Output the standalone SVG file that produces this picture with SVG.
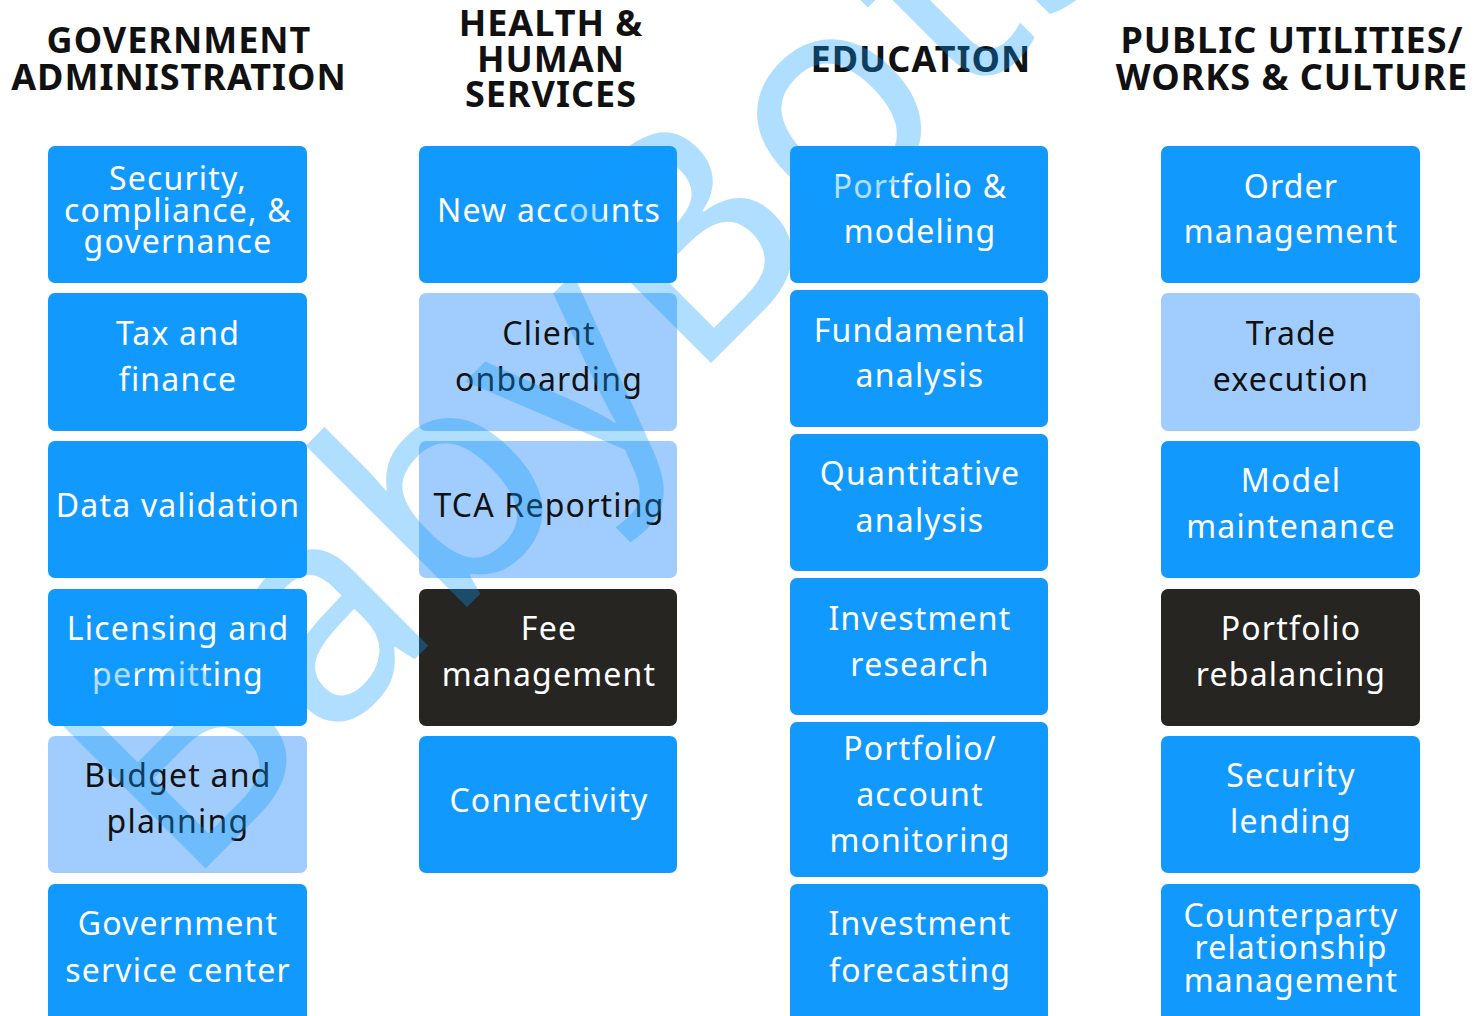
<svg xmlns="http://www.w3.org/2000/svg" width="1484" height="1016" viewBox="0 0 1484 1016">
  <style>
    .hd { font-family: "Noto Sans", "Open Sans", sans-serif; font-weight: 700; font-size: 36px; letter-spacing: 1px; fill: #111111; text-anchor: middle; }
    .box { stroke: none; }
    .blue { fill: #1299fe; }
    .light { fill: #a0cdfd; }
    .dark { fill: #262522; }
    .lbl { font-family: "Noto Sans", "Open Sans", sans-serif; font-weight: 400; font-size: 32px; letter-spacing: 1.2px; text-anchor: middle; }
    .w { fill: #ffffff; }
    .k { fill: #111111; }
    .mark { font-family: "Noto Sans", "Open Sans", sans-serif; font-size: 300px; letter-spacing: 5px; fill: rgb(13,154,255); fill-opacity: 0.33; }
  </style>
  <rect width="1484" height="1016" fill="#ffffff"/>

  <!-- column headings -->
  <g id="head-government">
    <text class="hd" x="179" y="53">GOVERNMENT</text>
    <text class="hd" x="179" y="90">ADMINISTRATION</text>
  </g>
  <g id="head-health">
    <text class="hd" x="551" y="36">HEALTH &amp;</text>
    <text class="hd" x="551" y="72">HUMAN</text>
    <text class="hd" x="551" y="107">SERVICES</text>
  </g>
  <g id="head-education">
    <text class="hd" x="921" y="72">EDUCATION</text>
  </g>
  <g id="head-public">
    <text class="hd" x="1292" y="53">PUBLIC UTILITIES/</text>
    <text class="hd" x="1292" y="90">WORKS &amp; CULTURE</text>
  </g>

  <!-- column 1: government administration -->
  <g id="n-security-compliance">
    <rect class="box blue" x="48" y="146" width="259" height="137" rx="7"/>
    <text class="lbl w" x="178" y="190">Security,</text>
    <text class="lbl w" x="178" y="222">compliance, &amp;</text>
    <text class="lbl w" x="178" y="253">governance</text>
  </g>
  <g id="n-tax-finance">
    <rect class="box blue" x="48" y="293" width="259" height="138" rx="7"/>
    <text class="lbl w" x="178" y="345">Tax and</text>
    <text class="lbl w" x="178" y="391">finance</text>
  </g>
  <g id="n-data-validation">
    <rect class="box blue" x="48" y="441" width="259" height="137" rx="7"/>
    <text class="lbl w" x="178" y="517">Data validation</text>
  </g>
  <g id="n-licensing">
    <rect class="box blue" x="48" y="589" width="259" height="137" rx="7"/>
    <text class="lbl w" x="178" y="640">Licensing and</text>
    <text class="lbl w" x="178" y="686">permitting</text>
  </g>
  <g id="n-budget">
    <rect class="box light" x="48" y="736" width="259" height="137" rx="7"/>
    <text class="lbl k" x="178" y="787">Budget and</text>
    <text class="lbl k" x="178" y="833">planning</text>
  </g>
  <g id="n-service-center">
    <rect class="box blue" x="48" y="884" width="259" height="150" rx="7"/>
    <text class="lbl w" x="178" y="935">Government</text>
    <text class="lbl w" x="178" y="982">service center</text>
  </g>

  <!-- column 2: health & human services -->
  <g id="n-new-accounts">
    <rect class="box blue" x="419" y="146" width="258" height="137" rx="7"/>
    <text class="lbl w" x="549" y="222">New accounts</text>
  </g>
  <g id="n-client-onboarding">
    <rect class="box light" x="419" y="293" width="258" height="138" rx="7"/>
    <text class="lbl k" x="549" y="345">Client</text>
    <text class="lbl k" x="549" y="391">onboarding</text>
  </g>
  <g id="n-tca-reporting">
    <rect class="box light" x="419" y="441" width="258" height="137" rx="7"/>
    <text class="lbl k" x="549" y="517">TCA Reporting</text>
  </g>
  <g id="n-fee-management">
    <rect class="box dark" x="419" y="589" width="258" height="137" rx="7"/>
    <text class="lbl w" x="549" y="640">Fee</text>
    <text class="lbl w" x="549" y="686">management</text>
  </g>
  <g id="n-connectivity">
    <rect class="box blue" x="419" y="736" width="258" height="137" rx="7"/>
    <text class="lbl w" x="549" y="812">Connectivity</text>
  </g>

  <!-- column 3: education -->
  <g id="n-portfolio-modeling">
    <rect class="box blue" x="790" y="146" width="258" height="137" rx="7"/>
    <text class="lbl w" x="920" y="198">Portfolio &amp;</text>
    <text class="lbl w" x="920" y="243">modeling</text>
  </g>
  <g id="n-fundamental">
    <rect class="box blue" x="790" y="290" width="258" height="137" rx="7"/>
    <text class="lbl w" x="920" y="342">Fundamental</text>
    <text class="lbl w" x="920" y="387">analysis</text>
  </g>
  <g id="n-quantitative">
    <rect class="box blue" x="790" y="434" width="258" height="137" rx="7"/>
    <text class="lbl w" x="920" y="485">Quantitative</text>
    <text class="lbl w" x="920" y="532">analysis</text>
  </g>
  <g id="n-investment-research">
    <rect class="box blue" x="790" y="578" width="258" height="137" rx="7"/>
    <text class="lbl w" x="920" y="630">Investment</text>
    <text class="lbl w" x="920" y="676">research</text>
  </g>
  <g id="n-account-monitoring">
    <rect class="box blue" x="790" y="722" width="258" height="155" rx="7"/>
    <text class="lbl w" x="920" y="760">Portfolio/</text>
    <text class="lbl w" x="920" y="806">account</text>
    <text class="lbl w" x="920" y="852">monitoring</text>
  </g>
  <g id="n-investment-forecasting">
    <rect class="box blue" x="790" y="884" width="258" height="150" rx="7"/>
    <text class="lbl w" x="920" y="935">Investment</text>
    <text class="lbl w" x="920" y="982">forecasting</text>
  </g>

  <!-- column 4: public utilities / works & culture -->
  <g id="n-order-management">
    <rect class="box blue" x="1161" y="146" width="259" height="137" rx="7"/>
    <text class="lbl w" x="1291" y="198">Order</text>
    <text class="lbl w" x="1291" y="243">management</text>
  </g>
  <g id="n-trade-execution">
    <rect class="box light" x="1161" y="293" width="259" height="138" rx="7"/>
    <text class="lbl k" x="1291" y="345">Trade</text>
    <text class="lbl k" x="1291" y="391">execution</text>
  </g>
  <g id="n-model-maintenance">
    <rect class="box blue" x="1161" y="441" width="259" height="137" rx="7"/>
    <text class="lbl w" x="1291" y="492">Model</text>
    <text class="lbl w" x="1291" y="538">maintenance</text>
  </g>
  <g id="n-rebalancing">
    <rect class="box dark" x="1161" y="589" width="259" height="137" rx="7"/>
    <text class="lbl w" x="1291" y="640">Portfolio</text>
    <text class="lbl w" x="1291" y="686">rebalancing</text>
  </g>
  <g id="n-security-lending">
    <rect class="box blue" x="1161" y="736" width="259" height="137" rx="7"/>
    <text class="lbl w" x="1291" y="787">Security</text>
    <text class="lbl w" x="1291" y="833">lending</text>
  </g>
  <g id="n-counterparty">
    <rect class="box blue" x="1161" y="884" width="259" height="150" rx="7"/>
    <text class="lbl w" x="1291" y="927">Counterparty</text>
    <text class="lbl w" x="1291" y="959">relationship</text>
    <text class="lbl w" x="1291" y="992">management</text>
  </g>

  <!-- translucent diagonal watermark over everything -->
  <g id="watermark">
    <text class="mark" transform="translate(185,889) rotate(-45)">BabyBots</text>
  </g>
</svg>
